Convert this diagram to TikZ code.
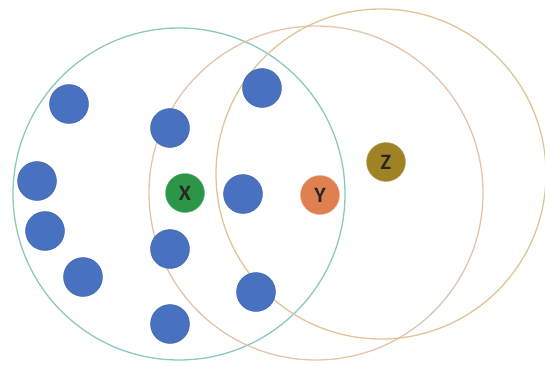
\documentclass[tikz,border=0pt]{standalone}
\usepackage{fontspec}
\setmainfont{Carlito}
\definecolor{dotblue}{RGB}{72,114,192}
\definecolor{xgreen}{RGB}{44,150,72}
\definecolor{yorange}{RGB}{224,128,80}
\definecolor{zolive}{RGB}{158,130,36}
\definecolor{ringteal}{RGB}{140,200,188}
\definecolor{ringtan}{RGB}{226,196,172}
\definecolor{ringsand}{RGB}{222,196,150}
\tikzset{
  pt/.style={circle, fill=dotblue, draw=dotblue!85!black, line width=0.4pt, minimum size=39pt, inner sep=0pt},
  lbl/.style={circle, minimum size=39pt, inner sep=0pt, font=\fontsize{22}{22}\selectfont\bfseries, text=black!85},
  ring/.style={line width=1.3pt}
}
\begin{document}
\begin{tikzpicture}[x=1pt,y=-1pt]
\useasboundingbox (0,0) rectangle (545,366);
% neighbourhood rings
\draw[ring, ringteal] (179,194) circle (166);
\draw[ring, ringtan] (316,193) circle (167);
\draw[ring, ringsand] (381,174) circle (165);
% sample points
\node[pt] (p1) at (69,104) {};
\node[pt] (p2) at (170,128) {};
\node[pt] (p3) at (37,181) {};
\node[pt] (p4) at (45,231) {};
\node[pt] (p5) at (83,277) {};
\node[pt] (p6) at (170,249) {};
\node[pt] (p7) at (170,324) {};
\node[pt] (p8) at (262,88) {};
\node[pt] (p9) at (243,194) {};
\node[pt] (p10) at (256,292) {};
% labelled query points
\node[lbl, fill=xgreen, draw=xgreen!70!white] (x) at (185,193) {X};
\node[lbl, fill=yorange, draw=yorange!70!white] (y) at (320,195) {Y};
\node[lbl, fill=zolive, draw=zolive!70!white] (z) at (386,162) {Z};
\end{tikzpicture}
\end{document}
